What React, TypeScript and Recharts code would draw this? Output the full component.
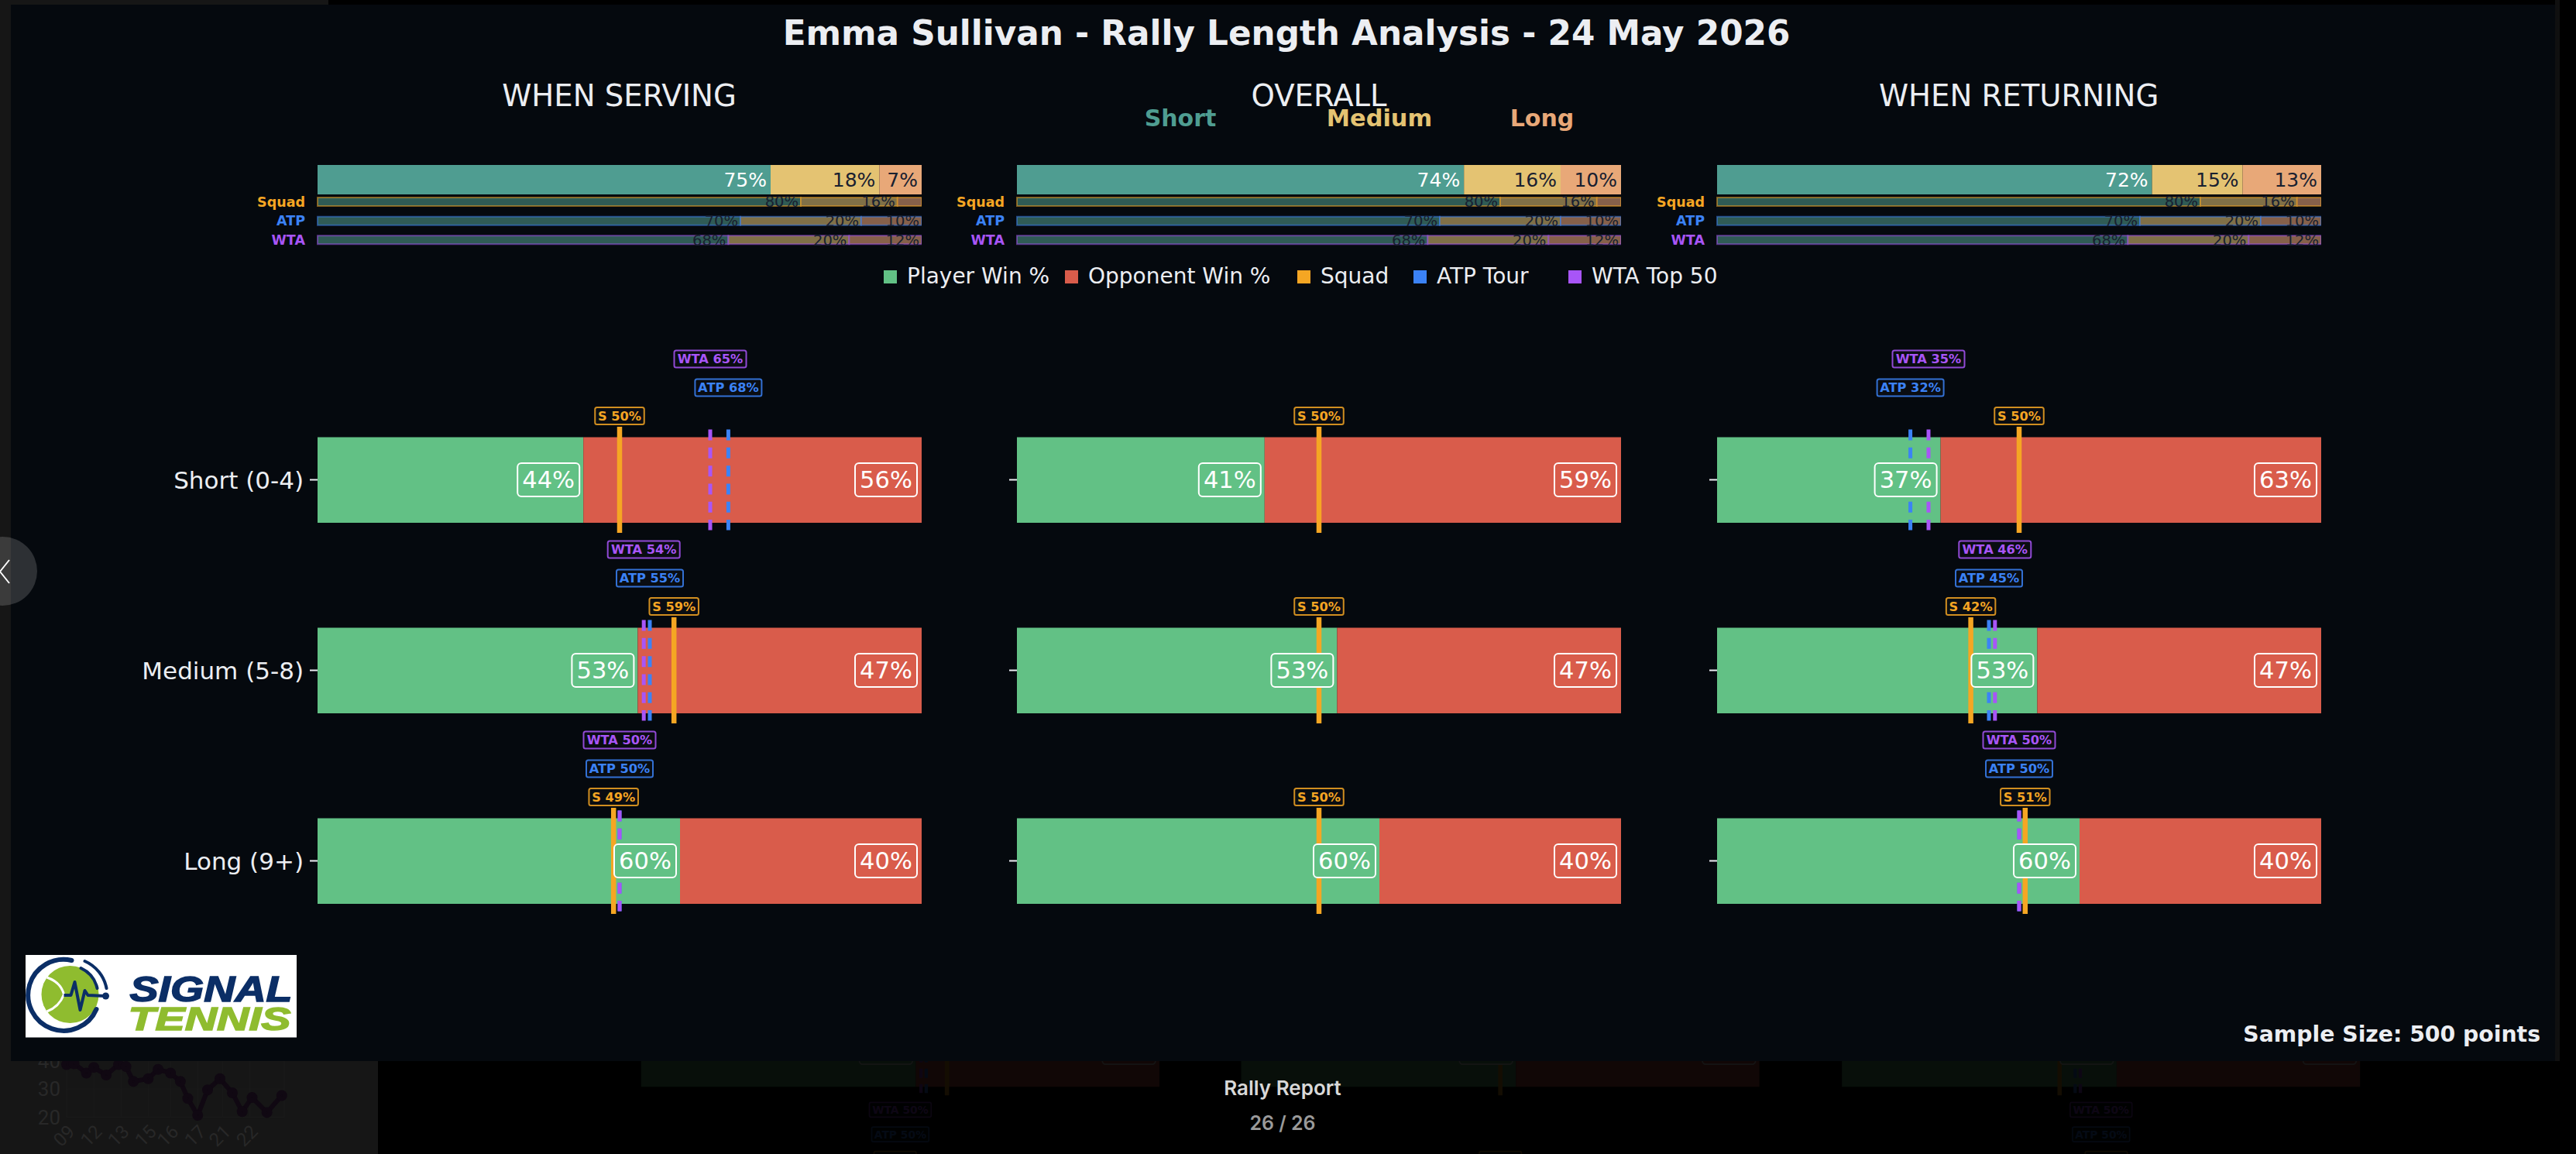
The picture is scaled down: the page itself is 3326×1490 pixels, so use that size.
import React from "react"
import {
  Bar,
  BarChart,
  CartesianGrid,
  Cell,
  LabelList,
  Line,
  LineChart,
  ReferenceDot,
  ReferenceLine,
  XAxis,
  YAxis,
} from "recharts"

const FONT = "'DejaVu Sans', sans-serif"

const panelTitles = ["WHEN SERVING", "OVERALL", "WHEN RETURNING"]
const rallyTypes = ["Short (0-4)", "Medium (5-8)", "Long (9+)"]

// share of points per rally length, one list per panel
const shortShare = [75, 74, 72]
const mediumShare = [18, 16, 15]
const longShare = [7, 10, 13]

const benchmarkNames = ["Squad", "ATP", "WTA"]
const benchShort = [80, 70, 68]
const benchMedium = [16, 20, 20]
const benchLong = [4, 10, 12]

// win % by rally length, one list per panel
const playerWin = [
  [44, 53, 60],
  [41, 53, 60],
  [37, 53, 60],
]
const opponentWin = [
  [56, 47, 40],
  [59, 47, 40],
  [63, 47, 40],
]
const squadMark = [
  [50, 59, 49],
  [50, 50, 50],
  [50, 42, 51],
]
const atpMark = [[68, 55, 50], null, [32, 45, 50]]
const wtaMark = [[65, 54, 50], null, [35, 46, 50]]

const legendLabels = ["Player Win %", "Opponent Win %", "Squad", "ATP Tour", "WTA Top 50"]

// dim page behind the modal
const trendX = [135, 150, 175, 190, 215, 240, 255, 270, 300, 320, 345, 365, 380, 400, 420, 445, 470, 490, 510, 540, 570]
const trendWtn = [38.7, 39, 35.7, 37.7, 35, 38.7, 38, 32.7, 33.7, 37, 35.7, 32.7, 26.7, 20.7, 29.7, 33.7, 28.7, 22, 27, 21.7, 27.7]
const trendTicks = [135, 190, 245, 300, 345, 400, 450, 505]
const trendTickLabels = ["09", "12", "13", "15", "16", "17", "21", "22"]

const TEAL = "#4f9d91"
const SAND = "#e4c372"
const PEACH = "#e8a878"
const GREEN = "#62c185"
const RED = "#d95c4b"
const ORANGE = "#f5a623"
const BLUE = "#3b82f6"
const PURPLE = "#a855f7"
const WHITE = "#eceef2"
const MODAL = "#05090e"
const DARK_TEXT = "#182030"

const legendColors = [GREEN, RED, ORANGE, BLUE, PURPLE]
const benchColors = [ORANGE, BLUE, PURPLE]
const legendX = [1141, 1375, 1675, 1825, 2025]

const panelX = [409.5, 1313, 2216.6]
const PLOT_W = 780
const AXIS_W = 300
const BAR_H = 110.6

function Txt({ x, y, size, color = WHITE, bold = false, children, align = "center", font = FONT }: any) {
  const tx = align === "center" ? "-50%" : align === "right" ? "-100%" : "0"
  return (
    <div
      style={{
        position: "absolute",
        left: x,
        top: y,
        transform: `translate(${tx}, -50%)`,
        fontFamily: font,
        fontSize: size,
        fontWeight: bold ? 700 : 400,
        color,
        whiteSpace: "nowrap",
        lineHeight: 1,
      }}
    >
      {children}
    </div>
  )
}

function ShareBar({ index }: { index: number }) {
  const data = [{ name: "all", short: shortShare[index], medium: mediumShare[index], long: longShare[index] }]
  const label = (key: string, fill: string) => (
    <LabelList
      dataKey={key}
      position="insideRight"
      offset={5}
      fill={fill}
      fontSize={25}
      fontFamily={FONT}
      formatter={(v: number) => `${v}%`}
    />
  )
  return (
    <div style={{ position: "absolute", left: panelX[index], top: 213 }}>
      <BarChart layout="vertical" width={PLOT_W} height={38} data={data} margin={{ top: 0, right: 0, bottom: 0, left: 0 }} barCategoryGap={0}>
        <XAxis type="number" domain={[0, 100]} hide />
        <YAxis type="category" dataKey="name" hide />
        <Bar dataKey="short" stackId="a" fill={TEAL} isAnimationActive={false}>
          {label("short", "#ffffff")}
        </Bar>
        <Bar dataKey="medium" stackId="a" fill={SAND} isAnimationActive={false}>
          {label("medium", DARK_TEXT)}
        </Bar>
        <Bar dataKey="long" stackId="a" fill={PEACH} isAnimationActive={false}>
          {label("long", DARK_TEXT)}
        </Bar>
      </BarChart>
    </div>
  )
}

function BenchTick({ x, y, payload, textAnchor }: any) {
  const idx = benchmarkNames.indexOf(payload.value)
  return (
    <text x={x} y={y} dy="0.36em" textAnchor={textAnchor} fill={benchColors[idx]} fontSize={17.5} fontWeight={700} fontFamily={FONT}>
      {payload.value}
    </text>
  )
}

function BenchBars({ index }: { index: number }) {
  const data = benchmarkNames.map((name, i) => ({
    name,
    short: benchShort[i],
    medium: benchMedium[i],
    long: benchLong[i],
  }))
  const outline = benchColors.map((c) => <Cell key={c} stroke={c} strokeOpacity={0.5} strokeWidth={2} />)
  const label = (key: string) => (
    <LabelList
      dataKey={key}
      position="insideRight"
      offset={3}
      fill={DARK_TEXT}
      fontSize={19.5}
      fontFamily={FONT}
      formatter={(v: number) => (v >= 5 ? `${v}%` : "")}
    />
  )
  return (
    <div style={{ position: "absolute", left: panelX[index] - 100, top: 247.8 }}>
      <BarChart layout="vertical" width={PLOT_W + 100} height={74} data={data} margin={{ top: 0, right: 0, bottom: 0, left: 0 }} barSize={11}>
        <XAxis type="number" domain={[0, 100]} hide />
        <YAxis
          type="category"
          dataKey="name"
          width={100}
          axisLine={false}
          tickLine={false}
          tickSize={16}
          tickMargin={0}
          tick={<BenchTick />}
          interval={0}
        />
        <Bar dataKey="short" stackId="a" fill="#2f5b55" isAnimationActive={false}>
          {outline}
          {label("short")}
        </Bar>
        <Bar dataKey="medium" stackId="a" fill="#807047" isAnimationActive={false}>
          {outline}
          {label("medium")}
        </Bar>
        <Bar dataKey="long" stackId="a" fill="#86604a" isAnimationActive={false}>
          {outline}
          {label("long")}
        </Bar>
      </BarChart>
    </div>
  )
}

function MarkTag({ viewBox, text, color, w, lift }: any) {
  const cx = viewBox.x
  const cy = viewBox.y - lift
  return (
    <g>
      <rect x={cx - w / 2} y={cy - 11} width={w} height={22} rx={2.5} fill="#0a0d12" stroke={color} strokeOpacity={0.85} strokeWidth={2} />
      <text x={cx} y={cy} dy="0.36em" textAnchor="middle" fill={color} fontSize={16.2} fontWeight={700} fontFamily={FONT}>
        {text}
      </text>
    </g>
  )
}

function ValueTag({ cx, cy, value, fill, inset }: any) {
  const w = 80
  const h = 43
  const x = cx - inset - w
  return (
    <g>
      <rect x={x} y={cy - h / 2} width={w} height={h} rx={5} fill={fill} stroke="#ffffff" strokeWidth={2} />
      <text x={x + w / 2} y={cy} dy="0.34em" textAnchor="middle" fill="#ffffff" fontSize={30.5} fontFamily={FONT}>
        {value}%
      </text>
    </g>
  )
}

function benchLine(row: number, value: number, color: string, prefix: string, w: number, lift: number, solid: boolean) {
  const reach = solid ? 0.278 : 0.264
  return (
    <ReferenceLine
      key={`${prefix}-${row}`}
      segment={[
        { x: value, y: row - reach },
        { x: value, y: row + reach },
      ]}
      stroke={color}
      strokeWidth={solid ? 6.5 : 5}
      strokeDasharray={solid ? undefined : "14 9.3"}
      label={<MarkTag text={`${prefix} ${value}%`} color={color} w={w} lift={lift} />}
    />
  )
}

function WinPanel({ index }: { index: number }) {
  const data = rallyTypes.map((name, i) => ({ row: i, name, player: playerWin[index][i], opponent: opponentWin[index][i] }))
  const atp = atpMark[index]
  const wta = wtaMark[index]
  return (
    <div style={{ position: "absolute", left: panelX[index] - AXIS_W, top: 435 }}>
      <BarChart
        layout="vertical"
        width={PLOT_W + AXIS_W}
        height={799.5}
        data={data}
        margin={{ top: 0, right: 0, bottom: 0, left: 0 }}
        barSize={BAR_H}
      >
        <XAxis type="number" domain={[0, 100]} hide />
        <YAxis
          type="number"
          dataKey="row"
          domain={[-0.75, 2.5]}
          ticks={[0, 1, 2]}
          width={AXIS_W}
          axisLine={false}
          tickSize={10}
          tickMargin={8}
          interval={0}
          tickLine={{ stroke: WHITE, strokeWidth: 2 }}
          tick={{ fill: WHITE, fontSize: 31, fontFamily: FONT }}
          tickFormatter={(v: number) => (index === 0 ? rallyTypes[v] : "")}
        />
        <Bar dataKey="player" stackId="w" fill={GREEN} isAnimationActive={false} />
        <Bar dataKey="opponent" stackId="w" fill={RED} isAnimationActive={false} />
        {atp && atp.map((v, row) => benchLine(row, v, BLUE, "ATP", 86, 54, false))}
        {wta && wta.map((v, row) => benchLine(row, v, PURPLE, "WTA", 93, 91, false))}
        {squadMark[index].map((v, row) => benchLine(row, v, ORANGE, "S", 63.5, 14, true))}
        {data.map((d) => (
          <ReferenceDot
            key={`p-${d.row}`}
            x={d.player}
            y={d.row}
            r={0}
            zIndex={2500}
            shape={(props: any) => <ValueTag {...props} value={d.player} fill={GREEN} inset={5} />}
          />
        ))}
        {data.map((d) => (
          <ReferenceDot
            key={`o-${d.row}`}
            x={100}
            y={d.row}
            r={0}
            zIndex={2500}
            shape={(props: any) => <ValueTag {...props} value={d.opponent} fill={RED} inset={6} />}
          />
        ))}
      </BarChart>
    </div>
  )
}

function TrendGhost() {
  const data = trendX.map((x, i) => ({ x, wtn: trendWtn[i] }))
  return (
    <div style={{ position: "absolute", left: 0, top: 1297 }}>
      <LineChart width={488} height={193} data={data} margin={{ top: 0, right: 121, bottom: 0, left: 0 }}>
        <CartesianGrid stroke="#1b1b1b" />
        <XAxis
          type="number"
          dataKey="x"
          domain={[135, 575]}
          ticks={trendTicks}
          height={47.4}
          axisLine={false}
          tickLine={false}
          interval={0}
          angle={-45}
          textAnchor="end"
          tick={{ fill: "#282828", fontSize: 24, fontFamily: "Roboto" }}
          tickFormatter={(v: number) => trendTickLabels[trendTicks.indexOf(v)]}
        />
        <YAxis
          domain={[20, 60]}
          ticks={[20, 30, 40]}
          width={86}
          axisLine={false}
          tickLine={false}
          tick={{ fill: "#282828", fontSize: 26, fontFamily: "Roboto" }}
        />
        <Line dataKey="wtn" stroke="#100812" strokeWidth={6} dot={{ r: 4, fill: "#100812", stroke: "#100812" }} isAnimationActive={false} />
      </LineChart>
    </div>
  )
}

function Logo() {
  return (
    <svg style={{ position: "absolute", left: 32.5, top: 1233 }} width={350.5} height={106.5} viewBox="32.5 1233 350.5 106.5">
      <rect x={32.5} y={1233} width={350.5} height={106.5} fill="#ffffff" />
      <circle cx={90} cy={1284} r={37} fill="#8fbc2f" />
      <path d="M 92 1240 A 46 46 0 1 0 124 1303" fill="none" stroke="#0b2e66" strokeWidth={6} strokeLinecap="round" />
      <path d="M 109 1241 A 48 48 0 0 1 137 1276" fill="none" stroke="#0b2e66" strokeWidth={4} strokeLinecap="round" />
      <path d="M 104 1250 A 38 38 0 0 1 125 1276" fill="none" stroke="#0b2e66" strokeWidth={4} strokeLinecap="round" />
      <path d="M 60 1262 Q 78 1268 82 1284 Q 76 1300 60 1306" fill="none" stroke="#ffffff" strokeWidth={3} />
      <path d="M 82 1285 L 91 1285 L 96 1268 L 103 1304 L 109 1279 L 113 1285 L 135 1286" fill="none" stroke="#0b2e66" strokeWidth={4} strokeLinejoin="round" />
      <circle cx={136} cy={1286} r={4.5} fill="#0b2e66" />
      <text x={167} y={1293} fontFamily="'Liberation Sans'" fontWeight={700} fontStyle="italic" fontSize={46} fill="#0b2e66" stroke="#0b2e66" strokeWidth={1.5} textLength={210} lengthAdjust="spacingAndGlyphs">
        SIGNAL
      </text>
      <text x={165} y={1330} fontFamily="'Liberation Sans'" fontWeight={700} fontStyle="italic" fontSize={42} fill="#8fbc2f" stroke="#8fbc2f" strokeWidth={1.5} textLength={210} lengthAdjust="spacingAndGlyphs">
        TENNIS
      </text>
    </svg>
  )
}

export default function App() {
  return (
    <div style={{ position: "absolute", left: 0, top: 0, width: 3326, height: 1490, overflow: "hidden", background: "#000000" }}>
      {/* page behind the modal */}
      <div style={{ position: "absolute", left: 0, top: 0, width: 424, height: 6, background: "#161616" }} />
      <div style={{ position: "absolute", left: 0, top: 0, width: 14, height: 1370, background: "#161616" }} />
      <div style={{ position: "absolute", left: 0, top: 1370, width: 488, height: 120, background: "#161616" }} />
      <div style={{ position: "absolute", left: 3299, top: 0, width: 6, height: 1370, background: "#101010" }} />
      <TrendGhost />
      <div
        style={{
          position: "absolute",
          left: 827 - 409.5 * 0.858,
          top: 1356.5 - 867 * 0.858,
          width: 3326,
          height: 1490,
          transform: "scale(0.858)",
          transformOrigin: "0 0",
          opacity: 0.08,
        }}
      >
        {panelTitles.map((t, i) => (
          <WinPanel key={t} index={i} />
        ))}
      </div>
      <Txt x={1656} y={1405} size={26} font="Inter" color="#d8d8d8">
        <span style={{ fontWeight: 600 }}>Rally Report</span>
      </Txt>
      <Txt x={1656} y={1450} size={25} font="Inter" color="#9a9a9a">
        <span style={{ fontWeight: 600 }}>26 / 26</span>
      </Txt>

      {/* modal */}
      <div style={{ position: "absolute", left: 14, top: 6, width: 3285, height: 1364, background: MODAL }} />
      <Txt x={1661} y={43} size={43.7} bold>
        Emma Sullivan - Rally Length Analysis - 24 May 2026
      </Txt>
      {panelTitles.map((t, i) => (
        <Txt key={t} x={panelX[i] + PLOT_W / 2} y={124} size={38.6}>
          {t}
        </Txt>
      ))}
      <Txt x={1524} y={153} size={30} bold color={TEAL}>
        Short
      </Txt>
      <Txt x={1781} y={153} size={30.4} bold color={SAND}>
        Medium
      </Txt>
      <Txt x={1991} y={153} size={30} bold color={PEACH}>
        Long
      </Txt>
      {panelTitles.map((t, i) => (
        <ShareBar key={t} index={i} />
      ))}
      {panelTitles.map((t, i) => (
        <BenchBars key={t} index={i} />
      ))}
      {legendLabels.map((name, i) => (
        <React.Fragment key={name}>
          <div style={{ position: "absolute", left: legendX[i], top: 349, width: 17, height: 17, background: legendColors[i] }} />
          <Txt x={legendX[i] + 30} y={357} size={28} align="left">
            {name}
          </Txt>
        </React.Fragment>
      ))}
      {panelTitles.map((t, i) => (
        <WinPanel key={t} index={i} />
      ))}
      <Logo />
      <Txt x={3280} y={1336} size={28.3} bold align="right">
        Sample Size: 500 points
      </Txt>

      {/* back button */}
      <div style={{ position: "absolute", left: -41, top: 693, width: 89, height: 89, borderRadius: "50%", background: "rgba(255,255,255,0.16)" }} />
      <svg style={{ position: "absolute", left: 0, top: 715 }} width={20} height={46}>
        <path d="M 12 8 L 0 23 L 12 38" fill="none" stroke="#ffffff" strokeWidth={2} />
      </svg>
    </div>
  )
}
